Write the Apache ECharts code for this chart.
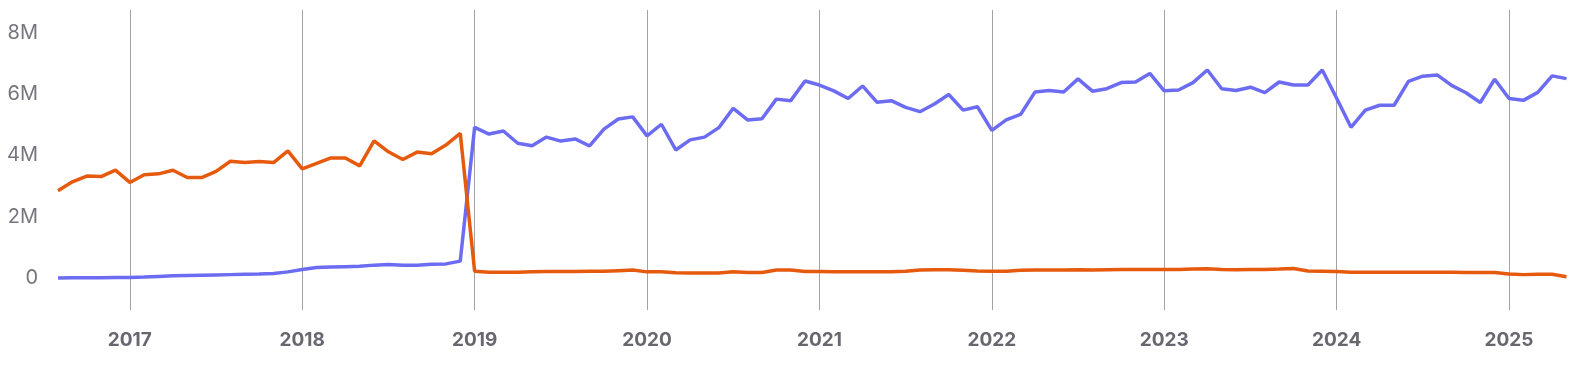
<!DOCTYPE html>
<html>
<head>
<meta charset="utf-8">
<script src="https://cdn.jsdelivr.net/npm/echarts@6/dist/echarts.min.js"></script>
<style>
html,body{margin:0;padding:0;background:#fff;}
#chart{width:1575px;height:375px;}
</style>
</head>
<body>
<div id="chart"></div>
<script>
// Monthly categories Aug 2016 .. May 2025
const startYear = 2016, startMonth = 8, monthCount = 106;
const months = [];
for (let k = 0; k < monthCount; k++) {
  const m0 = startMonth - 1 + k;
  const y = startYear + Math.floor(m0 / 12);
  const m = (m0 % 12) + 1;
  months.push(y + '-' + (m < 10 ? '0' + m : '' + m));
}

const yTickValues = [0, 2000000, 4000000, 6000000, 8000000];

// Values in millions
const blueSeries = [
  0.00, 0.01, 0.01, 0.01, 0.02, 0.02, 0.03, 0.05, 0.07, 0.08, 0.09, 0.10,
  0.11, 0.12, 0.13, 0.15, 0.20, 0.28, 0.34, 0.36, 0.37, 0.38, 0.42, 0.44,
  0.42, 0.42, 0.45, 0.46, 0.55, 4.92, 4.70, 4.80, 4.40, 4.32, 4.60, 4.47,
  4.54, 4.31, 4.86, 5.19, 5.26, 4.64, 5.02, 4.18, 4.51, 4.60, 4.91, 5.54,
  5.16, 5.20, 5.84, 5.79, 6.43, 6.30, 6.11, 5.86, 6.27, 5.74, 5.79, 5.57,
  5.43, 5.68, 5.99, 5.48, 5.59, 4.82, 5.16, 5.34, 6.07, 6.12, 6.07, 6.50,
  6.10, 6.18, 6.38, 6.40, 6.68, 6.11, 6.14, 6.38, 6.79, 6.18, 6.12, 6.23,
  6.05, 6.40, 6.30, 6.30, 6.79, 5.87, 4.92, 5.48, 5.64, 5.64, 6.42, 6.59,
  6.63, 6.29, 6.05, 5.73, 6.49, 5.86, 5.80, 6.06, 6.60, 6.51
];
const orangeSeries = [
  2.85, 3.14, 3.33, 3.31, 3.52, 3.12, 3.37, 3.40, 3.52, 3.28, 3.28, 3.48,
  3.81, 3.77, 3.80, 3.77, 4.15, 3.56, 3.74, 3.92, 3.92, 3.66, 4.48, 4.12,
  3.87, 4.11, 4.06, 4.34, 4.72, 0.22, 0.19, 0.19, 0.19, 0.20, 0.21, 0.21,
  0.21, 0.22, 0.22, 0.24, 0.26, 0.20, 0.20, 0.17, 0.16, 0.16, 0.16, 0.20,
  0.18, 0.18, 0.26, 0.26, 0.21, 0.21, 0.20, 0.20, 0.20, 0.20, 0.20, 0.22,
  0.26, 0.27, 0.27, 0.25, 0.23, 0.22, 0.22, 0.25, 0.26, 0.26, 0.26, 0.27,
  0.26, 0.27, 0.28, 0.28, 0.28, 0.28, 0.28, 0.29, 0.30, 0.28, 0.27, 0.28,
  0.28, 0.29, 0.31, 0.23, 0.22, 0.21, 0.19, 0.19, 0.19, 0.19, 0.19, 0.19,
  0.19, 0.19, 0.18, 0.18, 0.18, 0.13, 0.11, 0.12, 0.12, 0.04
];

const toValue = arr => arr.map(v => Math.round(v * 1000000));
const isJanuary = (index, value) => value.slice(5) === '01';

const chart = echarts.init(document.getElementById('chart'), null, {renderer: 'canvas'});
chart.setOption({
  animation: false,
  backgroundColor: '#ffffff',
  grid: {left: 58, right: 8.5, top: 10, bottom: 65},
  xAxis: {
    type: 'category',
    data: months,
    boundaryGap: false,
    axisLine: {show: false},
    axisTick: {show: false},
    axisLabel: {
      interval: isJanuary,
      formatter: v => v.slice(0, 4),
      color: '#68676f',
      fontFamily: 'Inter',
      fontWeight: 'bold',
      fontSize: 19,
      margin: 21
    },
    splitLine: {
      show: true,
      interval: isJanuary,
      lineStyle: {color: '#a3a3a3', width: 1}
    }
  },
  yAxis: {
    type: 'value',
    min: -1045000,
    max: 8750000,
    axisLine: {show: false},
    axisTick: {show: false, customValues: yTickValues},
    splitLine: {show: false},
    axisLabel: {
      customValues: yTickValues,
      formatter: v => v === 0 ? '0' : (v / 1000000) + 'M',
      color: '#76757f',
      fontFamily: 'Inter',
      fontSize: 20,
      padding: [3, 0, 0, 0],
      margin: 20
    }
  },
  series: [
    {
      name: 'blue',
      type: 'line',
      data: toValue(blueSeries),
      symbol: 'none',
      lineStyle: {color: '#6c6cf2', width: 3.5},
      itemStyle: {color: '#6c6cf2'}
    },
    {
      name: 'orange',
      type: 'line',
      data: toValue(orangeSeries),
      symbol: 'none',
      lineStyle: {color: '#e65a0e', width: 3.5},
      itemStyle: {color: '#e65a0e'}
    }
  ]
});
</script>
</body>
</html>
